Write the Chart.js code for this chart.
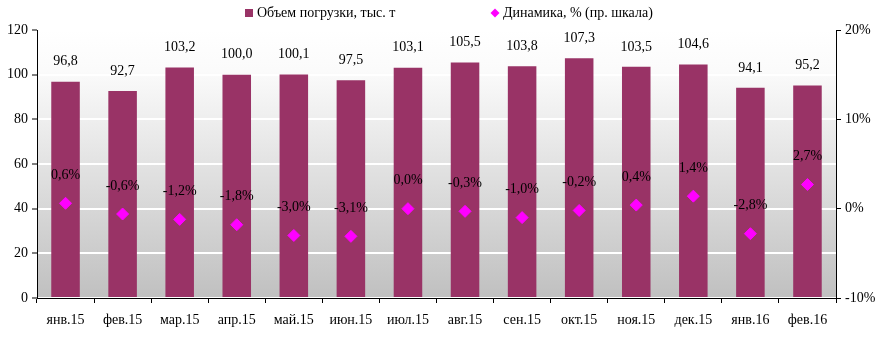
<!DOCTYPE html>
<html>
<head>
<meta charset="utf-8">
<script src="https://cdn.jsdelivr.net/npm/chart.js@4/dist/chart.umd.min.js"></script>
<style>
  html, body { margin: 0; padding: 0; background: #fff; }
  #wrap { width: 879px; height: 341px; position: relative; }
</style>
</head>
<body>
<div id="wrap"><canvas id="chart"></canvas></div>
<script>
const months = ["янв.15", "фев.15", "мар.15", "апр.15", "май.15", "июн.15", "июл.15",
  "авг.15", "сен.15", "окт.15", "ноя.15", "дек.15", "янв.16", "фев.16"];
const volume = [96.8, 92.7, 103.2, 100.0, 100.1, 97.5, 103.1, 105.5, 103.8, 107.3, 103.5, 104.6, 94.1, 95.2];
const dynamics = [0.6, -0.6, -1.2, -1.8, -3.0, -3.1, 0.0, -0.3, -1.0, -0.2, 0.4, 1.4, -2.8, 2.7];
const volumeLabel = "Объем погрузки, тыс. т";
const dynamicsLabel = "Динамика, % (пр. шкала)";

const FONT = "Liberation Serif, Times New Roman, serif";
const BAR_COLOR = "#993366";
const DOT_COLOR = "#ff00ff";

const fmt = (v) => v.toFixed(1).replace(".", ",");

const bgPlugin = {
  id: "bg",
  beforeDraw(chart) {
    const { ctx, chartArea: a } = chart;
    const g = ctx.createLinearGradient(0, a.top, 0, a.bottom);
    g.addColorStop(0, "#ffffff");
    g.addColorStop(0.15, "#fbfbfb");
    g.addColorStop(1, "#c0c0c0");
    ctx.save();
    ctx.fillStyle = g;
    ctx.fillRect(a.left, a.top, a.right - a.left, a.bottom - a.top);
    ctx.restore();
  }
};

const labelPlugin = {
  id: "labels",
  afterDatasetsDraw(chart) {
    const ctx = chart.ctx;
    ctx.save();
    ctx.font = "14px " + FONT;
    ctx.fillStyle = "#000";
    ctx.textAlign = "center";
    ctx.textBaseline = "middle";
    chart.getDatasetMeta(1).data.forEach((el, i) => {
      ctx.fillText(fmt(volume[i]), el.x, el.y - 20);
    });
    chart.getDatasetMeta(0).data.forEach((el, i) => {
      ctx.fillText(fmt(dynamics[i]) + "%", el.x, el.y - 28);
    });
    ctx.restore();
  }
};

const legendPlugin = {
  id: "customLegend",
  afterDraw(chart) {
    const ctx = chart.ctx;
    ctx.save();
    ctx.font = "14px " + FONT;
    ctx.textBaseline = "middle";
    ctx.fillStyle = BAR_COLOR;
    ctx.fillRect(245, 9, 8, 8);
    ctx.fillStyle = "#000";
    ctx.fillText(volumeLabel, 257, 13);
    ctx.fillStyle = DOT_COLOR;
    ctx.beginPath();
    ctx.moveTo(495, 8.5);
    ctx.lineTo(499.5, 13);
    ctx.lineTo(495, 17.5);
    ctx.lineTo(490.5, 13);
    ctx.closePath();
    ctx.fill();
    ctx.fillStyle = "#000";
    ctx.fillText(dynamicsLabel, 503, 13);
    ctx.restore();
  }
};

new Chart(document.getElementById("chart"), {
  data: {
    labels: months,
    datasets: [
      {
        type: "line",
        label: dynamicsLabel,
        data: dynamics,
        yAxisID: "y1",
        showLine: false,
        pointStyle: "rectRot",
        pointRadius: 6,
        pointBackgroundColor: DOT_COLOR,
        pointBorderColor: DOT_COLOR,
        order: 0
      },
      {
        type: "bar",
        label: volumeLabel,
        data: volume,
        yAxisID: "y",
        backgroundColor: BAR_COLOR,
        categoryPercentage: 1,
        barPercentage: 0.5,
        order: 1
      }
    ]
  },
  options: {
    responsive: true,
    maintainAspectRatio: false,
    animation: false,
    layout: { padding: { top: 30, left: 0, right: 0, bottom: 0 } },
    plugins: { legend: { display: false }, tooltip: { enabled: false } },
    scales: {
      x: {
        offset: true,
        grid: { offset: true, drawOnChartArea: false, drawTicks: true, tickLength: 5, tickColor: "#000" },
        border: { color: "#000" },
        ticks: { color: "#000", font: { family: FONT, size: 14 }, padding: 9, maxRotation: 0 },
        afterFit(s) { s.height = 43; }
      },
      y: {
        position: "left",
        min: 0, max: 120,
        ticks: { stepSize: 20, color: "#000", font: { family: FONT, size: 14 }, padding: 4 },
        grid: { color: "#ffffff", lineWidth: 2, tickColor: "#000", tickLength: 5, tickWidth: 1 },
        border: { color: "#000", width: 1 },
        afterFit(s) { s.width = 37; }
      },
      y1: {
        position: "right",
        min: -10, max: 20,
        ticks: { stepSize: 10, color: "#000", font: { family: FONT, size: 14 }, padding: 4,
          callback: (v) => v + "%" },
        grid: { drawOnChartArea: false, tickColor: "#000", tickLength: 5 },
        border: { color: "#000", width: 1 },
        afterFit(s) { s.width = 43; }
      }
    }
  },
  plugins: [bgPlugin, labelPlugin, legendPlugin]
});
</script>
</body>
</html>
